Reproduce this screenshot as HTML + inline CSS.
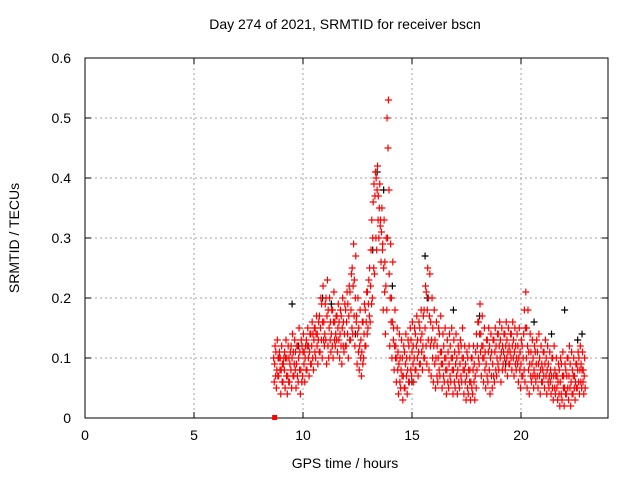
<!DOCTYPE html>
<html><head><meta charset="utf-8"><style>
body{margin:0;background:#fff}
svg{display:block;font-family:"Liberation Sans",sans-serif}
</style></head><body>
<svg id="c" width="640" height="480" viewBox="0 0 640 480">
<rect width="640" height="480" fill="#fff"/>
<g id="grid"></g><g id="axes"></g><g id="pts"></g>
<text x="345" y="29" text-anchor="middle" font-size="14">Day 274 of 2021, SRMTID for receiver bscn</text>
<text x="345" y="468" text-anchor="middle" font-size="14">GPS time / hours</text>
<text transform="translate(19,238) rotate(-90)" text-anchor="middle" font-size="14">SRMTID / TECUs</text>
</svg>
<script>
const xTicks=[0,5,10,15,20];
const yTicks=[0,0.1,0.2,0.3,0.4,0.5,0.6];
const yLabels=["0","0.1","0.2","0.3","0.4","0.5","0.6"];
const hourStart=8.7, hourStep=0.1;
const lowVals=[0.06,0.05,0.07,0.04,0.06,0.05,0.04,0.06,0.05,0.07,
0.05,0.06,0.04,0.07,0.06,0.08,0.07,0.09,0.08,0.10,
0.09,0.11,0.10,0.12,0.09,0.10,0.11,0.10,0.12,0.11,
0.10,0.09,0.11,0.12,0.10,0.13,0.14,0.12,0.09,0.08,
0.07,0.10,0.12,0.15,0.16,0.20,0.24,0.28,0.30,0.26,
0.18,0.14,0.30,0.12,0.10,0.08,0.06,0.04,0.05,0.03,
0.05,0.04,0.06,0.07,0.06,0.08,0.07,0.09,0.08,0.10,
0.09,0.08,0.07,0.06,0.05,0.06,0.07,0.05,0.06,0.04,
0.05,0.06,0.04,0.05,0.04,0.05,0.06,0.04,0.03,0.04,
0.03,0.04,0.03,0.08,0.09,0.07,0.06,0.05,0.06,0.04,
0.05,0.06,0.07,0.08,0.06,0.09,0.08,0.07,0.09,0.08,
0.07,0.08,0.06,0.05,0.07,0.06,0.05,0.04,0.06,0.05,
0.06,0.05,0.04,0.06,0.05,0.04,0.05,0.04,0.03,0.04,
0.03,0.02,0.03,0.02,0.04,0.03,0.02,0.04,0.03,0.05,
0.04,0.05,0.04];
const lowMidVals=[0.07,0.07,0.08,0.06,0.08,0.07,0.06,0.08,0.07,0.08,
0.07,0.08,0.06,0.09,0.08,0.10,0.09,0.10,0.11,0.12,
0.11,0.13,0.13,0.13,0.12,0.13,0.12,0.13,0.13,0.13,
0.12,0.12,0.12,0.14,0.13,0.15,0.17,0.16,0.11,0.10,
0.09,0.12,0.14,0.17,0.19,0.25,0.30,0.33,0.32,0.28,
0.21,0.18,0.38,0.16,0.13,0.10,0.08,0.06,0.07,0.05,
0.07,0.06,0.08,0.09,0.08,0.10,0.09,0.11,0.10,0.12,
0.13,0.12,0.10,0.09,0.07,0.08,0.09,0.07,0.08,0.06,
0.07,0.08,0.06,0.07,0.06,0.07,0.08,0.06,0.05,0.06,
0.05,0.06,0.05,0.10,0.11,0.10,0.08,0.07,0.08,0.07,
0.07,0.08,0.09,0.10,0.08,0.10,0.10,0.09,0.10,0.10,
0.09,0.09,0.08,0.07,0.08,0.10,0.08,0.07,0.07,0.07,
0.07,0.07,0.06,0.07,0.07,0.06,0.06,0.05,0.05,0.05,
0.04,0.04,0.05,0.04,0.05,0.05,0.04,0.05,0.05,0.06,
0.06,0.06,0.05];
const midVals=[0.09,0.08,0.10,0.08,0.09,0.10,0.07,0.09,0.10,0.09,
0.09,0.10,0.08,0.11,0.10,0.12,0.11,0.12,0.13,0.14,
0.13,0.15,0.16,0.14,0.17,0.15,0.14,0.16,0.14,0.15,
0.14,0.15,0.14,0.16,0.17,0.18,0.22,0.20,0.14,0.12,
0.11,0.14,0.16,0.19,0.22,0.30,0.37,0.38,0.35,0.31,
0.25,0.22,0.45,0.20,0.16,0.12,0.10,0.09,0.08,0.07,
0.09,0.08,0.10,0.11,0.10,0.12,0.11,0.13,0.12,0.15,
0.18,0.17,0.13,0.12,0.10,0.10,0.11,0.09,0.10,0.08,
0.09,0.10,0.08,0.09,0.08,0.09,0.10,0.08,0.07,0.08,
0.06,0.08,0.07,0.12,0.14,0.12,0.10,0.09,0.11,0.10,
0.09,0.11,0.10,0.12,0.11,0.11,0.12,0.11,0.11,0.12,
0.11,0.10,0.10,0.09,0.10,0.15,0.12,0.09,0.09,0.08,
0.09,0.09,0.08,0.08,0.09,0.08,0.07,0.07,0.07,0.07,
0.06,0.06,0.07,0.05,0.07,0.07,0.06,0.07,0.06,0.08,
0.08,0.08,0.07];
const highMidVals=[0.10,0.11,0.10,0.10,0.09,0.11,0.10,0.10,0.12,0.11,
0.11,0.12,0.11,0.12,0.11,0.13,0.12,0.14,0.14,0.15,
0.14,0.17,0.19,0.16,0.20,0.18,0.16,0.18,0.16,0.17,
0.16,0.17,0.16,0.18,0.19,0.21,0.25,0.23,0.17,0.15,
0.13,0.16,0.18,0.21,0.25,0.33,0.39,0.40,0.37,0.33,
0.29,0.26,0.50,0.24,0.20,0.15,0.12,0.11,0.10,0.10,
0.11,0.10,0.12,0.13,0.12,0.14,0.13,0.15,0.14,0.18,
0.21,0.20,0.16,0.15,0.13,0.12,0.14,0.11,0.12,0.10,
0.11,0.12,0.10,0.11,0.10,0.11,0.12,0.10,0.09,0.10,
0.08,0.10,0.09,0.14,0.16,0.14,0.12,0.11,0.13,0.12,
0.11,0.13,0.12,0.14,0.13,0.12,0.14,0.13,0.12,0.14,
0.13,0.12,0.12,0.11,0.12,0.18,0.15,0.11,0.11,0.10,
0.11,0.11,0.10,0.09,0.11,0.10,0.09,0.08,0.10,0.08,
0.07,0.08,0.09,0.07,0.08,0.10,0.09,0.08,0.07,0.09,
0.10,0.09,0.08];
const highVals=[0.12,0.13,0.11,0.12,0.10,0.13,0.12,0.11,0.14,0.13,
0.12,0.15,0.13,0.14,0.12,0.15,0.14,0.16,0.15,0.17,
0.16,0.20,0.22,0.19,0.23,0.20,0.18,0.21,0.17,0.19,
0.18,0.20,0.19,0.21,0.22,0.24,0.29,0.27,0.20,0.18,
0.16,0.19,0.21,0.23,0.28,0.36,0.41,0.42,0.39,0.35,
0.33,0.30,0.53,0.29,0.26,0.18,0.15,0.14,0.13,0.12,
0.14,0.13,0.15,0.16,0.15,0.17,0.16,0.18,0.17,0.22,
0.25,0.24,0.20,0.18,0.16,0.15,0.17,0.14,0.15,0.13,
0.14,0.15,0.13,0.14,0.12,0.13,0.15,0.12,0.11,0.12,
0.10,0.12,0.11,0.16,0.19,0.17,0.15,0.13,0.15,0.14,
0.13,0.15,0.14,0.16,0.15,0.14,0.16,0.15,0.14,0.16,
0.15,0.14,0.15,0.13,0.14,0.21,0.18,0.14,0.13,0.12,
0.13,0.14,0.12,0.11,0.13,0.12,0.11,0.10,0.12,0.10,
0.09,0.10,0.11,0.09,0.10,0.12,0.11,0.10,0.09,0.11,
0.12,0.11,0.10];
const blackHours=[9.5,9.8,10.9,11.3,12.4,13.2,13.4,13.7,14.1,15.0,15.6,15.7,16.9,18.1,19.3,20.6,21.4,22.0,22.6,22.8];
const blackVals=[0.19,0.12,0.20,0.19,0.14,0.28,0.41,0.38,0.22,0.06,0.27,0.20,0.18,0.17,0.09,0.16,0.14,0.18,0.13,0.14];
const X0=85,XS=21.8,Y0=418,YS=600;
const xs=h=>X0+h*XS, ys=v=>Y0-v*YS;
const NS="http://www.w3.org/2000/svg";
function mk(t,a,p){const e=document.createElementNS(NS,t);for(const k in a)e.setAttribute(k,a[k]);p.appendChild(e);return e;}
const grid=document.getElementById('grid'),axes=document.getElementById('axes'),pts=document.getElementById('pts');
const L=85,R=608,T=58,B=418;
xTicks.forEach(t=>{const x=xs(t);
 if(t>0){const g=mk('line',{x1:x,x2:x,y1:T,y2:B,stroke:'#a0a0a0','stroke-dasharray':'2,3'},grid);
 
 }
 mk('line',{x1:x,x2:x,y1:B,y2:B-6,stroke:'#000'},axes);mk('line',{x1:x,x2:x,y1:T,y2:T+6,stroke:'#000'},axes);
 const tx=mk('text',{x:x,y:B+22,'text-anchor':'middle','font-size':14},axes);tx.textContent=t;
 
 });
yTicks.forEach((t,i)=>{const y=ys(t);
 if(t>0&&t<0.6){const g=mk('line',{x1:L,x2:R,y1:y,y2:y,stroke:'#a0a0a0','stroke-dasharray':'2,3'},grid);
 
 }
 mk('line',{x1:L,x2:L+6,y1:y,y2:y,stroke:'#000'},axes);mk('line',{x1:R,x2:R-6,y1:y,y2:y,stroke:'#000'},axes);
 const tx=mk('text',{x:L-14,y:y+5,'text-anchor':'end','font-size':14},axes);tx.textContent=yLabels[i];
 
 });
const fr=mk('rect',{x:L,y:T,width:R-L,height:B-T,fill:'none',stroke:'#000'},axes);


function plus(h,v,col,name){const x=xs(h),y=ys(v);
 const p=mk('path',{d:`M${x-3.5},${y}h7M${x},${y-3.5}v7`,stroke:col,'stroke-width':1.2,fill:'none'},pts);
 
 }
blackHours.forEach((h,i)=>plus(h,blackVals[i],'#000','black-point'));
lowVals.forEach((v,i)=>{const h=hourStart+i*hourStep;plus(h-0.02,v,'#f00','red-point');});
lowMidVals.forEach((v,i)=>{const h=hourStart+i*hourStep;plus(h+0.045,v,'#f00','red-point');});
midVals.forEach((v,i)=>{const h=hourStart+i*hourStep;plus(h,v,'#f00','red-point');});
highMidVals.forEach((v,i)=>{const h=hourStart+i*hourStep;plus(h-0.045,v,'#f00','red-point');});
highVals.forEach((v,i)=>{const h=hourStart+i*hourStep;plus(h+0.02,v,'#f00','red-point');});
const sq=mk('rect',{x:xs(8.7)-2.5,y:ys(0)-3,width:5,height:5,fill:'#f00'},pts);


</script>
</body></html>
